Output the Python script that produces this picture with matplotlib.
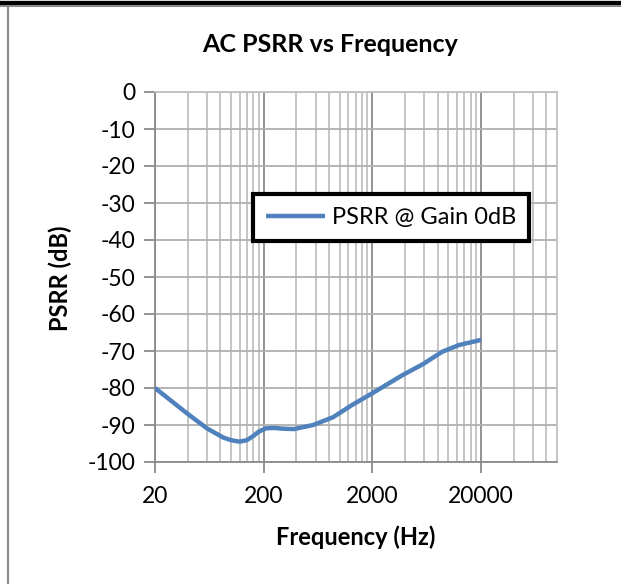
import matplotlib
matplotlib.use("Agg")
import matplotlib.pyplot as plt
from matplotlib.lines import Line2D
from matplotlib.ticker import FixedLocator, NullFormatter

plt.rcParams['font.family'] = ['Lato', 'DejaVu Sans']

# values
freq = [20, 40, 60, 85, 100, 120, 140, 160, 180, 210, 250, 300, 380, 570,
        870, 1300, 2000, 3800, 5800, 8800, 12500, 20000]
psrr = [-80.0, -87.0, -90.9, -93.4, -94.1, -94.5, -94.1, -93.0, -91.8,
        -90.9, -90.8, -91.0, -91.1, -90.0, -87.9, -84.6, -81.4, -76.5,
        -73.6, -70.2, -68.4, -67.0]
series_name = 'PSRR @ Gain 0dB'
x_major = [20, 200, 2000, 20000]
x_labels = ['20', '200', '2000', '20000']
y_ticks = list(range(-100, 1, 10))

W, H = 621, 584
fig = plt.figure(figsize=(W / 100, H / 100), dpi=100)
ax = fig.add_axes([155 / W, 1 - 462 / H, (557 - 155) / W, (462 - 92) / H])

ax.plot(freq, psrr, color='#4f81bd', lw=3.2, solid_capstyle='butt',
        solid_joinstyle='round', zorder=3)

ax.set_xscale('log')
ax.set_xlim(20, 100000)
ax.set_ylim(-100, 0)

minors = [m * d for d in (20, 200, 2000, 20000) for m in range(2, 10)]
minors = [v for v in minors if v < 100000]
ax.xaxis.set_major_locator(FixedLocator(x_major))
ax.xaxis.set_minor_locator(FixedLocator(minors))
ax.xaxis.set_minor_formatter(NullFormatter())
ax.set_xticklabels(x_labels)
ax.set_yticks(y_ticks)
ax.set_yticklabels([str(v) for v in y_ticks])

ax.grid(True, which='major', axis='x', color='#8a8a8a', lw=1.3)
ax.grid(True, which='minor', axis='x', color='#c0c0c0', lw=1.3)
ax.grid(True, which='major', axis='y', color='#b0b0b0', lw=1.3)
ax.set_axisbelow(True)

for s in ['top', 'right']:
    ax.spines[s].set_color('#c0c0c0')
    ax.spines[s].set_linewidth(1.3)
ax.spines['left'].set_color('#8a8a8a')
ax.spines['bottom'].set_color('#8a8a8a')
ax.spines['left'].set_linewidth(1.3)
ax.spines['bottom'].set_linewidth(1.3)

ax.tick_params(axis='both', which='major', length=8, width=1.3, color='#8a8a8a',
               labelsize=16.5, pad=6)
ax.tick_params(axis='x', which='minor', length=0)
ax.tick_params(axis='x', which='major', pad=9)

fig.text(330 / W, 1 - 45 / H, 'AC PSRR vs Frequency', ha='center', va='center',
         fontsize=18, fontweight='bold')
fig.text(356 / W, 1 - 537 / H, 'Frequency (Hz)', ha='center', va='center',
         fontsize=17, fontweight='bold')
fig.text(60 / W, 1 - 278 / H, 'PSRR (dB)', ha='center', va='center',
         rotation=90, fontsize=17, fontweight='bold')

leg = ax.legend([series_name], loc='center',
                bbox_to_anchor=(391 / W, 1 - 217.5 / H),
                bbox_transform=fig.transFigure, fontsize=17, fancybox=False,
                framealpha=1, edgecolor='black', handlelength=2.5,
                borderpad=0.55, handletextpad=0.3, borderaxespad=0)
leg.get_frame().set_linewidth(3)

# page / chart border
fig.add_artist(Line2D([0, W], [H - 0.5, H - 0.5], transform=None,
                      color='#9a9a9a', lw=1))
fig.add_artist(Line2D([0, W], [H - 2.5, H - 2.5], transform=None,
                      color='black', lw=3))
fig.add_artist(Line2D([0, W], [H - 5.5, H - 5.5], transform=None,
                      color='#8a8a8a', lw=1.5))
fig.add_artist(Line2D([7.5, 7.5], [0, H - 6], transform=None,
                      color='#8a8a8a', lw=1.5))

fig.savefig('out.png', dpi=100)
